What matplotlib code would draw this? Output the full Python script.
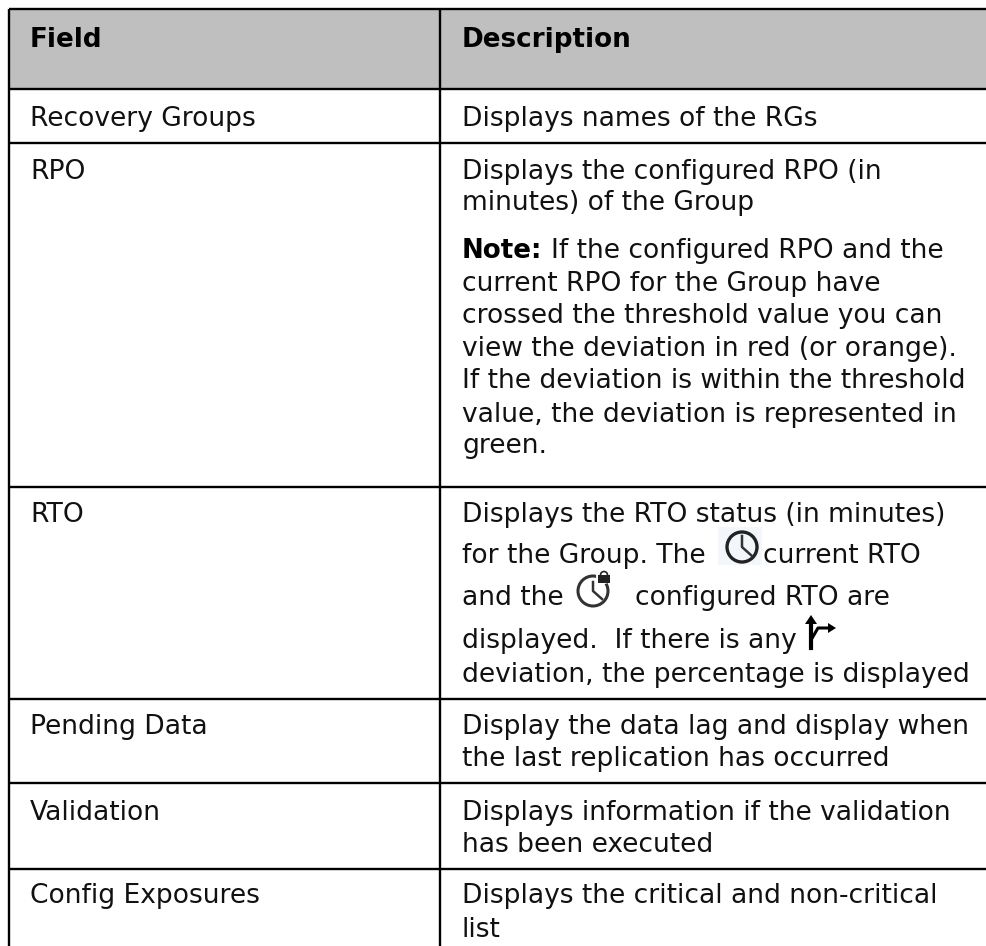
# Tableau des champs : texte reel, traits en coordonnees pixels
import matplotlib
matplotlib.use('Agg')
import matplotlib.pyplot as plt
from matplotlib.patches import Rectangle, Circle

headers = ['Field', 'Description']
fields = ['Recovery Groups', 'RPO', 'RTO', 'Pending Data', 'Validation', 'Config Exposures']
field_baselines = [126, 179, 522, 734, 820, 903]

desc_lines = [
    'Displays names of the RGs',
    'Displays the configured RPO (in',
    'minutes) of the Group',
    'If the configured RPO and the',
    'current RPO for the Group have',
    'crossed the threshold value you can',
    'view the deviation in red (or orange).',
    'If the deviation is within the threshold',
    'value, the deviation is represented in',
    'green.',
    'Displays the RTO status (in minutes)',
    'for the Group. The',
    'current RTO',
    'and the',
    'configured RTO are',
    'displayed.  If there is any',
    'deviation, the percentage is displayed',
    'Display the data lag and display when',
    'the last replication has occurred',
    'Displays information if the validation',
    'has been executed',
    'Displays the critical and non-critical',
    'list',
]
desc_x = [462, 462, 462, 551, 462, 462, 462, 462, 462, 462, 462, 462, 763, 462, 635, 462, 462,
          462, 462, 462, 462, 462, 462]
desc_y = [126, 179, 210, 258, 291, 323, 356, 388, 422, 453, 522, 563, 563, 605, 605, 648, 682,
          734, 766, 820, 852, 903, 937]

row_lines = [9, 89, 143, 487, 699, 783, 869]
left, mid = 9, 440
W, H = 986, 946

fig = plt.figure(figsize=(W / 100, H / 100), dpi=100)
ax = fig.add_axes([0, 0, 1, 1])
ax.set_xlim(0, W)
ax.set_ylim(H, 0)
ax.axis('off')

# En-tete gris
ax.add_patch(Rectangle((left, row_lines[0]), W - left, row_lines[1] - row_lines[0], color='#bfbfbf', lw=0))

for y in row_lines:
    ax.plot([left, W], [y, y], color='black', lw=1.7, solid_capstyle='butt')
for x in [left, mid]:
    ax.plot([x, x], [row_lines[0], H], color='black', lw=1.7, solid_capstyle='butt')

fs = 19.1
fs_bold = 18.8
ax.text(30, 47, headers[0], fontsize=fs_bold, fontweight='bold', va='baseline')
ax.text(462, 47, headers[1], fontsize=fs_bold, fontweight='bold', va='baseline')
for name, y in zip(fields, field_baselines):
    ax.text(30, y, name, fontsize=fs, color='#111111', va='baseline')
for s, x, y in zip(desc_lines, desc_x, desc_y):
    ax.text(x, y, s, fontsize=fs, color='#111111', va='baseline')
ax.text(462, 258, 'Note:', fontsize=fs_bold, fontweight='bold', va='baseline')

# Icones
ax.add_patch(Rectangle((718, 527), 44, 38, color='#f3f7fb', lw=0))
ax.add_patch(Circle((742, 547), 15, fill=False, ec='#222222', lw=2.4))
ax.plot([742, 742, 752], [536, 547, 556], color='#333333', lw=1.8)
ax.add_patch(Circle((593, 591), 15, fill=False, ec='#333333', lw=2.2))
ax.plot([593, 593, 602], [582, 591, 599], color='#333333', lw=1.8)
ax.add_patch(Circle((604, 576), 8, color='white', lw=0))
ax.add_patch(Rectangle((598, 575), 12, 8, color='#222222', lw=0))
ax.add_patch(Circle((604, 575), 3.5, fill=False, ec='#222222', lw=1.2))
ax.plot([811, 811], [648, 622], color='black', lw=3)
ax.plot([811, 818, 830], [640, 628, 628], color='black', lw=2.2)
ax.fill([805, 811, 817], [624, 615, 624], color='black', lw=0)
ax.fill([828, 836, 828], [623, 628, 633], color='black', lw=0)

fig.savefig('out.png', dpi=100)
